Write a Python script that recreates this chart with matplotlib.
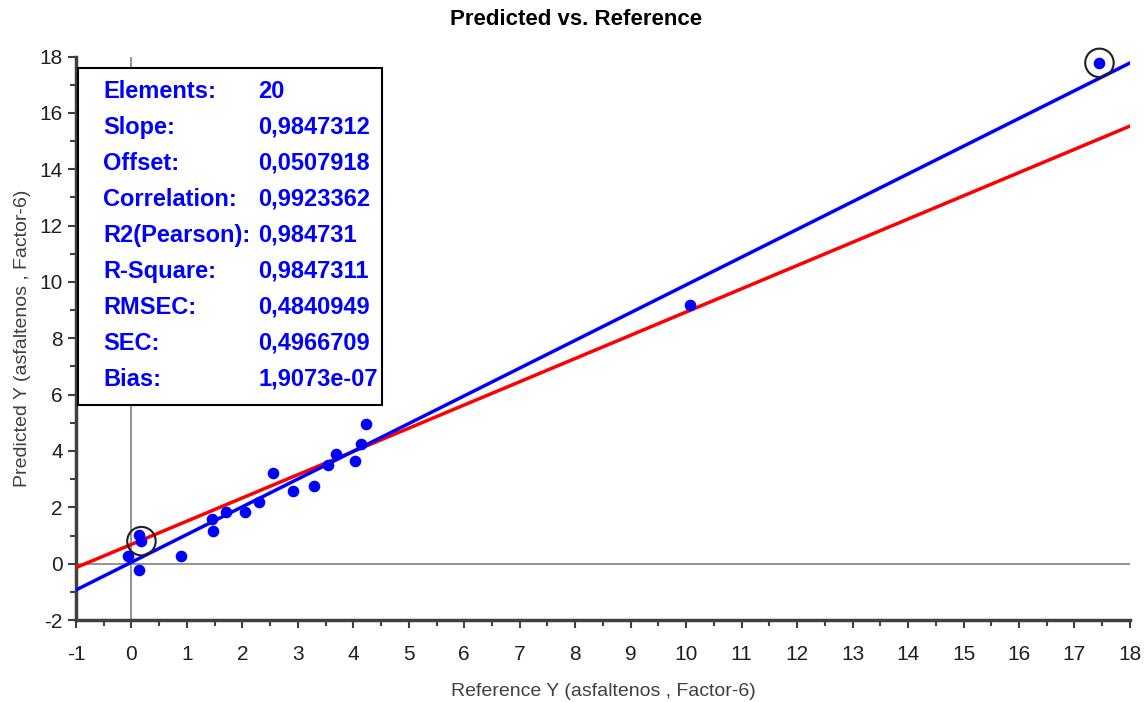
import numpy as np
import matplotlib.pyplot as plt
from matplotlib.ticker import MultipleLocator

# reference vs predicted values
ref_y = [-0.07, 0.14, 0.18, 0.14, 0.90, 1.46, 1.47, 1.70, 2.05, 2.30,
         2.56, 2.92, 3.29, 3.54, 3.68, 4.03, 4.14, 4.22, 10.07, 17.45]
pred_y = [0.27, 1.02, 0.80, -0.22, 0.27, 1.59, 1.16, 1.83, 1.83, 2.18,
          3.21, 2.57, 2.74, 3.49, 3.89, 3.65, 4.25, 4.96, 9.17, 17.78]
circled = [2, 19]

# regression lines: (slope, offset)
fit_line = (0.9847312, 0.0507918)
other_line = (0.825, 0.685)

stat_names = ["Elements:", "Slope:", "Offset:", "Correlation:", "R2(Pearson):",
              "R-Square:", "RMSEC:", "SEC:", "Bias:"]
stat_values = ["20", "0,9847312", "0,0507918", "0,9923362", "0,984731",
               "0,9847311", "0,4840949", "0,4966709", "1,9073e-07"]

plt.rcParams['font.family'] = ['Liberation Sans Narrow', 'Liberation Sans', 'DejaVu Sans']
plt.rcParams['axes.unicode_minus'] = False

fig = plt.figure(figsize=(11.46, 7.02), dpi=100)
ax = fig.add_axes([0.0663, 0.1168, 0.9197, 0.8025])

ax.axhline(0, color='#808080', lw=1.2, zorder=1)
ax.axvline(0, color='#808080', lw=1.2, zorder=1)

xs = np.array([-1, 18])
ax.plot(xs, other_line[0] * xs + other_line[1], color='#ff0000', lw=2.5, zorder=3)
ax.plot(xs, fit_line[0] * xs + fit_line[1], color='#0000ff', lw=2.5, zorder=3)

ax.scatter(ref_y, pred_y, s=70, color='#0000ff', zorder=4, linewidths=0)
ax.scatter([ref_y[i] for i in circled], [pred_y[i] for i in circled], s=420,
           facecolors='none', edgecolors='#202020', linewidths=1.5, zorder=5,
           clip_on=False)

ax.set_xlim(-1, 18)
ax.set_ylim(-2, 18)
ax.xaxis.set_major_locator(MultipleLocator(1))
ax.xaxis.set_minor_locator(MultipleLocator(0.5))
ax.yaxis.set_major_locator(MultipleLocator(2))
ax.yaxis.set_minor_locator(MultipleLocator(1))

for s in ['top', 'right']:
    ax.spines[s].set_visible(False)
for s in ['left', 'bottom']:
    ax.spines[s].set_linewidth(2.5)
    ax.spines[s].set_color('#404040')
ax.tick_params(which='both', direction='out', color='#404040', width=1.5)
ax.tick_params(which='major', length=6, labelsize=15, labelcolor='#202020')
ax.tick_params(which='minor', length=4)
ax.tick_params(axis='x', which='major', pad=12)

ax.set_xlabel('Reference Y (asfaltenos , Factor-6)', fontsize=14, color='#404040', labelpad=14)
ax.set_ylabel('Predicted Y (asfaltenos , Factor-6)', fontsize=14, color='#404040', labelpad=6)
fig.text(0.503, 0.972, 'Predicted vs. Reference', ha='center', va='center',
         fontsize=16, fontweight='bold', color='black')

# statistics box
box = plt.Rectangle((0.002, 0.382), 0.288, 0.598, transform=ax.transAxes,
                    facecolor='white', edgecolor='black', lw=1.5, zorder=6)
ax.add_patch(box)
for i, (n, v) in enumerate(zip(stat_names, stat_values)):
    yy = 0.939 - i * 0.0639
    ax.text(0.026, yy, n, transform=ax.transAxes, fontsize=17, fontweight='bold',
            color='#0000ff', va='center', zorder=7)
    ax.text(0.173, yy, v, transform=ax.transAxes, fontsize=17, fontweight='bold',
            color='#0000ff', va='center', zorder=7)

fig.savefig('out.png', dpi=100)
